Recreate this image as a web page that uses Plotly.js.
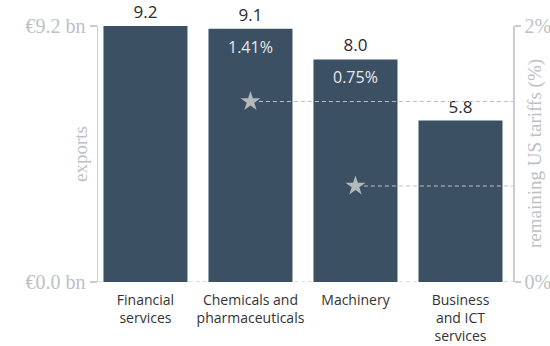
<!DOCTYPE html>
<html><head><meta charset="utf-8">
<script src="https://cdn.plot.ly/plotly-3.0.1.min.js"></script>
<style>html,body{margin:0;padding:0;background:#fff}#chart{width:550px;height:346px}</style>
</head><body><div id="chart"></div>
<script>
const categories = ["Financial<br>services", "Chemicals and<br>pharmaceuticals", "Machinery", "Business<br>and ICT<br>services"];
const exportsBn = [9.2, 9.1, 8.0, 5.8];
const tariffIdx = [1, 2];
const tariffPct = [1.41, 0.75];
const leftTickVals = [0, 9.2];
const leftTickText = ["€0.0 bn", "€9.2 bn"];
const rightTickVals = [0, 2];
const rightTickText = ["0%", "2%"];
const leftTitle = "exports";
const rightTitle = "remaining US tariffs (%)";

const idx = categories.map((_, i) => i);
const xRange = [-0.452, 3.5];
const grey = "#bcc1c5";
const lineGrey = "#c9cdd1";
const serif = "Liberation Serif";
const sans = "Open Sans";

const bars = {
  type: "bar", x: idx, y: exportsBn, width: 0.8,
  marker: {color: "#3c5064"},
  text: exportsBn.map(v => v.toFixed(1)), textposition: "outside",
  textfont: {family: sans, size: 17, color: "#2a2a2a"},
  cliponaxis: false, hoverinfo: "skip"
};
const stars = {
  type: "scatter", mode: "markers", yaxis: "y2",
  x: tariffIdx, y: tariffPct,
  marker: {symbol: "star", size: 15, color: "#b3b8bd"},
  hoverinfo: "skip"
};

const shapes = [{
  type: "line", xref: "paper", yref: "y", x0: 0, x1: 1, y0: 0, y1: 0,
  line: {color: grey, width: 1, dash: "4px,3px"}, layer: "below"
}];
tariffIdx.forEach((xi, k) => {
  shapes.push({type: "line", xref: "x", yref: "y2", x0: xi + 0.08, x1: xRange[1], y0: tariffPct[k], y1: tariffPct[k],
    line: {color: grey, width: 1, dash: "4px,3px"}});
});
const annotations = tariffIdx.map((xi, k) => ({
  xref: "x", yref: "y", x: xi, y: exportsBn[xi], yanchor: "middle", yshift: -18,
  text: tariffPct[k].toFixed(2) + "%", showarrow: false,
  font: {family: sans, size: 16, color: "#e4e9ee"}
}));
annotations.push({
  xref: "paper", yref: "paper", x: 0, y: 0.5, xanchor: "center", yanchor: "middle", xshift: -18,
  text: leftTitle, textangle: -90, showarrow: false, font: {family: serif, size: 19, color: grey}
});
annotations.push({
  xref: "paper", yref: "paper", x: 1, y: 0.5, xanchor: "center", yanchor: "middle", xshift: 22,
  text: rightTitle, textangle: -90, showarrow: false, font: {family: serif, size: 19, color: grey}
});

const layout = {
  width: 550, height: 346,
  margin: {l: 98, r: 37, t: 26, b: 64},
  paper_bgcolor: "#fff", plot_bgcolor: "#fff",
  showlegend: false, bargap: 0.2,
  xaxis: {range: xRange, tickvals: idx, ticktext: categories, showgrid: false, zeroline: false,
    showline: false, ticks: "", ticklabelstandoff: 8, automargin: false,
    tickfont: {family: sans, size: 14, color: "#333"}, fixedrange: true},
  yaxis: {range: [0, 9.2], tickvals: leftTickVals, ticktext: leftTickText, showgrid: false, zeroline: false,
    showline: true, linecolor: lineGrey, linewidth: 1.5, ticks: "outside", ticklen: 7, tickcolor: lineGrey, tickwidth: 1.5,
    tickfont: {family: serif, size: 20, color: grey}},
  yaxis2: {range: [0, 2], overlaying: "y", side: "right", tickvals: rightTickVals, ticktext: rightTickText,
    showgrid: false, zeroline: false, showline: true, linecolor: lineGrey, linewidth: 1.5,
    ticks: "outside", ticklen: 6, tickcolor: lineGrey, tickwidth: 1.5,
    tickfont: {family: serif, size: 20, color: grey}},
  shapes: shapes, annotations: annotations
};
Plotly.newPlot("chart", [bars, stars], layout, {displayModeBar: false, staticPlot: true});
</script></body></html>
